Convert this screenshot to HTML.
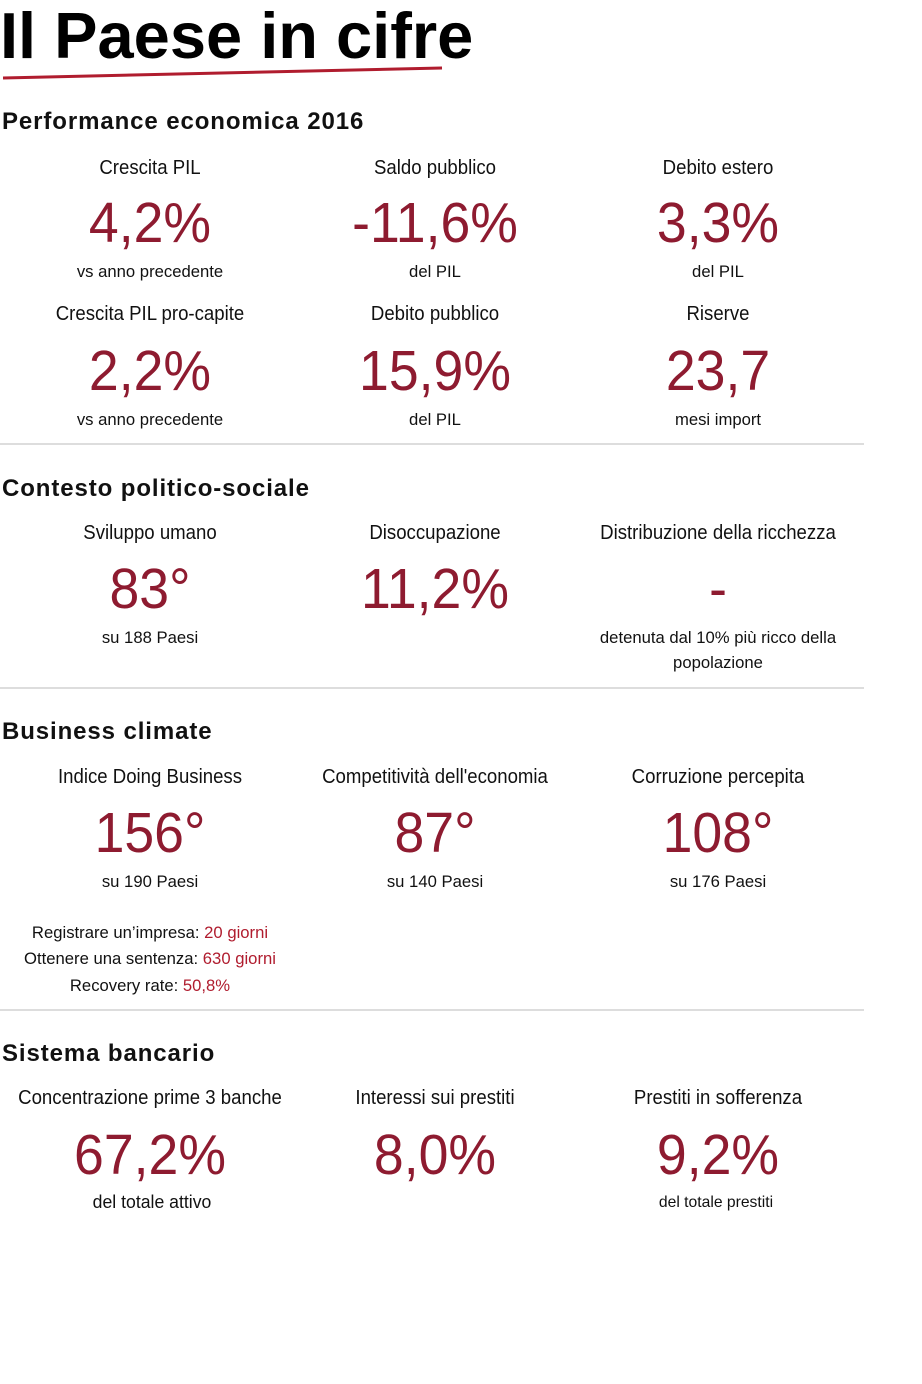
<!DOCTYPE html><html><head><meta charset="utf-8"><style>
body{margin:0;width:922px;height:1384px;background:#fff;position:relative;overflow:hidden;font-family:"Liberation Sans",sans-serif;color:#111}
.t{position:absolute;width:400px;text-align:center;white-space:nowrap;transform-origin:center}
.n{color:#8e1b30;font-size:57px;line-height:57px;transform:scaleX(.94)}
.l{font-size:20px;line-height:20px;transform:scaleX(.93)}
.s{font-size:17px;line-height:17px;transform:scaleX(.98)}
.h{position:absolute;left:2px;font-weight:bold;font-size:24px;line-height:24px;letter-spacing:.9px}
.hr{position:absolute;left:0;width:864px;height:2px;background:#ddd}
.r{color:#b01c2e}
</style></head><body>
<div style="position:absolute;left:0;top:1px;font-weight:bold;font-size:65px;line-height:70px;color:#000">Il Paese in cifre</div>
<svg style="position:absolute;left:0;top:0" width="922" height="100"><path d="M3 78 L442 68" stroke="#b01c2e" stroke-width="3" fill="none"/></svg>

<div class="h" style="top:110px">Performance economica 2016</div>
<div class="t l" style="left:-50px;top:158px">Crescita PIL</div>
<div class="t l" style="left:235px;top:158px">Saldo pubblico</div>
<div class="t l" style="left:518px;top:158px">Debito estero</div>
<div class="t n" style="left:-50px;top:195px">4,2%</div>
<div class="t n" style="left:235px;top:195px">-11,6%</div>
<div class="t n" style="left:518px;top:195px">3,3%</div>
<div class="t s" style="left:-50px;top:263px">vs anno precedente</div>
<div class="t s" style="left:235px;top:263px">del PIL</div>
<div class="t s" style="left:518px;top:263px">del PIL</div>
<div class="t l" style="left:-50px;top:304px">Crescita PIL pro-capite</div>
<div class="t l" style="left:235px;top:304px">Debito pubblico</div>
<div class="t l" style="left:518px;top:304px">Riserve</div>
<div class="t n" style="left:-50px;top:343px">2,2%</div>
<div class="t n" style="left:235px;top:343px">15,9%</div>
<div class="t n" style="left:518px;top:343px">23,7</div>
<div class="t s" style="left:-50px;top:411px">vs anno precedente</div>
<div class="t s" style="left:235px;top:411px">del PIL</div>
<div class="t s" style="left:518px;top:411px">mesi import</div>
<div class="hr" style="top:443px"></div>

<div class="h" style="top:477px">Contesto politico-sociale</div>
<div class="t l" style="left:-50px;top:523px">Sviluppo umano</div>
<div class="t l" style="left:235px;top:523px">Disoccupazione</div>
<div class="t l" style="left:518px;top:523px">Distribuzione della ricchezza</div>
<div class="t n" style="left:-50px;top:561px">83°</div>
<div class="t n" style="left:235px;top:561px">11,2%</div>
<div class="t n" style="left:518px;top:561px">-</div>
<div class="t s" style="left:-50px;top:629px">su 188 Paesi</div>
<div class="t s" style="left:518px;top:629px">detenuta dal 10% più ricco della</div>
<div class="t s" style="left:518px;top:654px">popolazione</div>
<div class="hr" style="top:687px"></div>

<div class="h" style="top:720px">Business climate</div>
<div class="t l" style="left:-50px;top:767px">Indice Doing Business</div>
<div class="t l" style="left:235px;top:767px">Competitività dell'economia</div>
<div class="t l" style="left:518px;top:767px">Corruzione percepita</div>
<div class="t n" style="left:-50px;top:805px">156°</div>
<div class="t n" style="left:235px;top:805px">87°</div>
<div class="t n" style="left:518px;top:805px">108°</div>
<div class="t s" style="left:-50px;top:873px">su 190 Paesi</div>
<div class="t s" style="left:235px;top:873px">su 140 Paesi</div>
<div class="t s" style="left:518px;top:873px">su 176 Paesi</div>
<div class="t s" style="left:-50px;top:924px">Registrare un’impresa: <span class="r">20 giorni</span></div>
<div class="t s" style="left:-50px;top:950px">Ottenere una sentenza: <span class="r">630 giorni</span></div>
<div class="t s" style="left:-50px;top:977px">Recovery rate: <span class="r">50,8%</span></div>
<div class="hr" style="top:1009px"></div>

<div class="h" style="top:1042px">Sistema bancario</div>
<div class="t l" style="left:-50px;top:1088px">Concentrazione prime 3 banche</div>
<div class="t l" style="left:235px;top:1088px">Interessi sui prestiti</div>
<div class="t l" style="left:518px;top:1088px">Prestiti in sofferenza</div>
<div class="t n" style="left:-50px;top:1127px">67,2%</div>
<div class="t n" style="left:235px;top:1127px">8,0%</div>
<div class="t n" style="left:518px;top:1127px">9,2%</div>
<div class="t s" style="left:-48px;top:1194px;font-size:18px">del totale attivo</div>
<div class="t s" style="left:516px;top:1194px;font-size:16px">del totale prestiti</div>
</body></html>
